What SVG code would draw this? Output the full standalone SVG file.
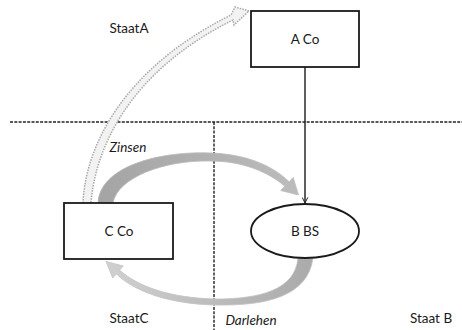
<svg xmlns="http://www.w3.org/2000/svg" width="462" height="330" viewBox="0 0 462 330">
<style>
.box{fill:#fff;stroke:#1a1a1a;stroke-width:1.8}
.lbl{font-family:Lato,"Open Sans",sans-serif;font-size:13.5px;fill:#1a1a1a;text-anchor:middle}
.it{font-style:italic}
.dash{stroke:#222;stroke-width:1.4;stroke-dasharray:3 1.3;fill:none}
</style>
<defs>
<linearGradient id="gz" x1="0" y1="0" x2="1" y2="0">
<stop offset="0" stop-color="#a4a4a4"/><stop offset="1" stop-color="#bcbcbc"/>
</linearGradient>
<linearGradient id="gd" x1="0" y1="0" x2="1" y2="0">
<stop offset="0" stop-color="#d0d0d0"/><stop offset="1" stop-color="#aaaaaa"/>
</linearGradient>
<marker id="ah" viewBox="0 0 10 10" refX="9" refY="5" markerWidth="7" markerHeight="7" orient="auto" markerUnits="userSpaceOnUse">
<path d="M1 1 L9 5 L1 9" fill="none" stroke="#222" stroke-width="1.4"/>
</marker>
</defs>
<rect width="462" height="330" fill="#fff"/>
<g id="borders">
<line class="dash" x1="10" y1="122" x2="462" y2="122"/>
<line class="dash" x1="214" y1="122" x2="214" y2="330"/>
</g>
<g id="connectors">
<line x1="305" y1="67" x2="305" y2="203" stroke="#1a1a1a" stroke-width="1.4" marker-end="url(#ah)"/>
<path d="M83 203 C85 150 120 70 231 15 L235 7 L249 11 L234 25 L233 20 C128 72 95 150 91 203 Z" fill="#f2f2f2" stroke="#a8a8a8" stroke-width="1.5" stroke-dasharray="1.5 1.2"/>
<path d="M98 203 C100 166 160 151 210 153 C245 154 272 165 289.1 181.8 L293.2 177.5 L298.5 195 L280.8 190.5 L284.9 186.2 C268 172 243 161 210 161 C165 160 118 177 113 203 Z" fill="url(#gz)" stroke="#bbb" stroke-width="0.8"/>
<path d="M313 258 C308 297 265 306 215 305 C170 304 135 292 116.4 273.9 L112.7 278 L106 261.4 L123.3 266 L119.6 270.1 C138 287 172 298 215 299 C260 299 295 290 298 258 Z" fill="url(#gd)" stroke="#c4c4c4" stroke-width="0.8"/>
</g>
<g id="ACo">
<rect class="box" x="251" y="11" width="108" height="56"/>
<text class="lbl" x="305" y="44">A Co</text>
</g>
<g id="BBS">
<ellipse class="box" cx="305" cy="231" rx="54" ry="27"/>
<text class="lbl" x="305" y="236">B BS</text>
</g>
<g id="CCo">
<rect class="box" x="64" y="203" width="109" height="56"/>
<text class="lbl" x="119" y="236">C Co</text>
</g>
<g id="labels">
<text class="lbl" x="129" y="33">StaatA</text>
<text class="lbl" x="129" y="323">StaatC</text>
<text class="lbl" x="431" y="323">Staat B</text>
<text class="lbl it" x="128" y="152">Zinsen</text>
<text class="lbl it" x="251" y="325">Darlehen</text>
</g>
</svg>
